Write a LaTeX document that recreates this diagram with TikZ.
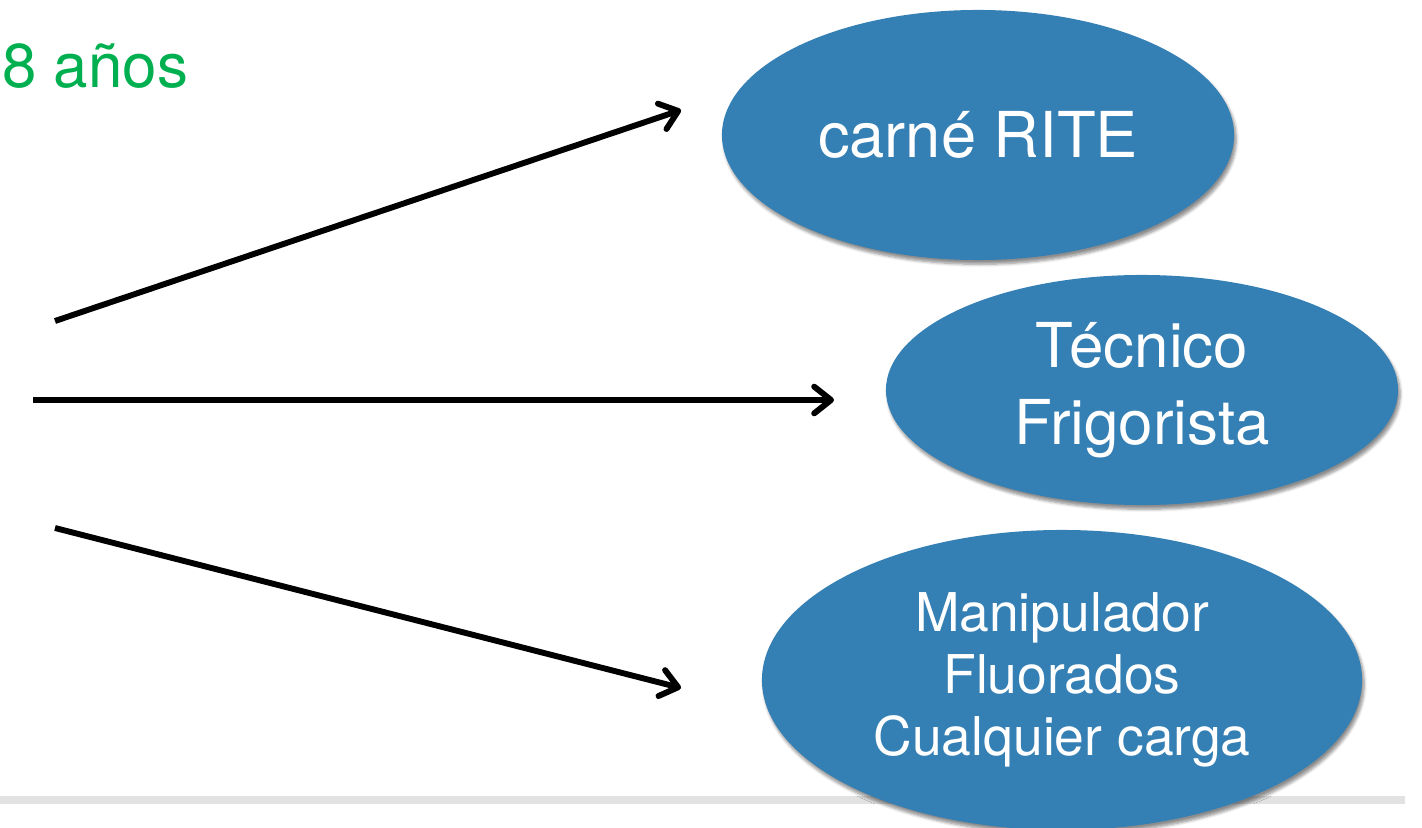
\documentclass[tikz,border=0pt]{standalone}
\usepackage{fontspec}
\setmainfont{TeX Gyre Heros}
\usetikzlibrary{shapes.geometric,arrows.meta,shadows.blur}
\definecolor{blobblue}{RGB}{52,127,180}
\definecolor{agegreen}{RGB}{0,176,80}
\definecolor{rulegray}{RGB}{226,226,226}
\tikzset{
    blob/.style={ellipse, fill=blobblue, text=white, align=center, inner sep=0pt,
        blur shadow={shadow xshift=1.5pt, shadow yshift=-3pt, shadow blur steps=6, shadow opacity=45}},
    pointer/.style={line width=4.2pt, -{Straight Barb[round, length=12pt, width=19pt]}}
}
\begin{document}
\begin{tikzpicture}[x=0.025cm, y=-0.025cm]
    \useasboundingbox (0,0) rectangle (1422,828);

    % Draw rule and age
    \coordinate (r1) at (0,800);
    \coordinate (r2) at (1405,800);
    \draw[rulegray, line width=5pt] (r1) -- (r2);
    \node[anchor=base west, inner sep=0pt, text=agegreen, font=\fontsize{44}{50}\selectfont] (age) at (2,88) {8 años};

    % Draw nodes
    \node[blob, minimum width=12.8cm, minimum height=6.25cm, font=\fontsize{45}{54}\selectfont] (rite) at (978,135) {carné RITE};
    \node[blob, minimum width=12.8cm, minimum height=5.75cm, font=\fontsize{44}{55}\selectfont] (frigo) at (1142,390) {Técnico\\Frigorista};
    \node[blob, minimum width=15cm, minimum height=7.5cm, font=\fontsize{38}{44}\selectfont] (fluor) at (1062,680) {Manipulador\\Fluorados\\Cualquier carga};

    % Draw edges
    \coordinate (s1) at (55,321);
    \coordinate (s2) at (33,400);
    \coordinate (s3) at (55,528);
    \coordinate (t1) at (681,110);
    \coordinate (t2) at (834,400);
    \coordinate (t3) at (681,688);
    \draw[pointer] (s1) -- (t1);
    \draw[pointer] (s2) -- (t2);
    \draw[pointer] (s3) -- (t3);
\end{tikzpicture}
\end{document}
